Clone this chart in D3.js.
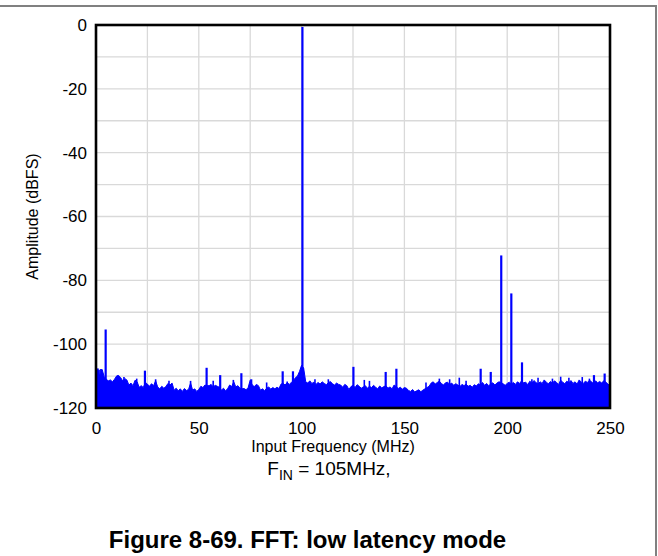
<!DOCTYPE html>
<html>
<head>
<meta charset="utf-8">
<script src="https://cdn.jsdelivr.net/npm/d3@7"></script>
<style>
  body { margin: 0; background: #fff; }
  svg { display: block; font-family: Arial, "Liberation Sans", Helvetica, sans-serif; }
</style>
</head>
<body>
<svg id="chart" width="658" height="556"></svg>
<script>
// ---- Data ----
const xTicks = [0, 50, 100, 150, 200, 250];
const yTicks = [0, -20, -40, -60, -80, -100, -120];
const xGrid = [25, 50, 75, 100, 125, 150, 175, 200, 225];
const yGrid = [-10, -20, -30, -40, -50, -60, -70, -80, -90, -100, -110];

// Noise floor, one value per MHz from 0 to 250 MHz (dBFS)
const floorDb = [
  -107.8, -108.2, -110.5, -108.0, -110.2, -111.0, -111.5, -111.2, -111.8, -111.0,
  -110.0, -109.8, -110.5, -111.5, -110.8, -111.2, -112.8, -112.2, -113.0, -111.3,
  -111.8, -113.5, -113.0, -113.6, -112.0, -112.5, -113.2, -112.4, -113.0, -111.5,
  -113.4, -114.0, -113.2, -113.8, -113.3, -112.3, -112.8, -112.2, -114.4, -113.8,
  -114.6, -114.0, -114.8, -113.9, -114.5, -114.2, -112.2, -114.4, -114.0, -114.8,
  -114.2, -113.2, -113.6, -112.8, -113.0, -113.0, -112.6, -113.4, -112.9, -113.2,
  -113.5, -114.4, -113.8, -114.6, -114.0, -112.8, -113.3, -111.8, -113.4, -113.0,
  -113.8, -114.0, -113.9, -114.3, -113.6, -111.3, -112.8, -113.3, -112.6, -113.0,
  -114.4, -114.0, -114.6, -113.8, -113.4, -114.1, -113.6, -114.0, -113.5, -113.9,
  -112.5, -112.3, -112.8, -112.0, -112.6, -112.0, -111.5, -110.5, -110.0, -108.5,
  -106.6, -107.5, -111.8, -112.2, -111.5, -112.3, -111.9, -112.6, -112.0, -112.5,
  -111.8, -112.3, -112.7, -112.1, -111.7, -112.4, -112.8, -112.2, -112.6, -112.8,
  -113.5, -112.6, -113.0, -114.2, -113.3, -112.9, -113.6, -112.7, -113.2, -113.8,
  -113.4, -113.0, -113.8, -113.2, -113.6, -112.9, -113.5, -114.0, -113.1, -113.7,
  -113.3, -113.0, -113.8, -113.4, -114.0, -112.8, -113.3, -113.9, -113.5, -114.1,
  -113.6, -113.8, -114.5, -114.8, -114.2, -115.0, -114.6, -114.3, -114.9, -114.4,
  -114.0, -113.6, -113.2, -112.2, -111.8, -112.5, -112.0, -111.6, -112.3, -112.8,
  -112.1, -111.9, -112.6, -112.2, -112.9, -112.4, -112.8, -113.3, -112.6, -113.0,
  -112.5, -113.2, -112.9, -113.5, -112.7, -113.1, -112.4, -112.8, -112.0, -112.9,
  -112.3, -113.0, -112.5, -112.1, -112.8, -112.2, -111.8, -112.0, -112.4, -112.9,
  -112.3, -111.9, -112.5, -112.0, -112.6, -111.8, -112.3, -111.5, -112.1, -111.9,
  -112.7, -111.6, -112.2, -111.4, -112.0, -112.5, -111.8, -112.3, -111.2, -111.9,
  -112.4, -111.7, -112.2, -111.5, -112.0, -112.6, -111.3, -111.9, -112.4, -111.6,
  -112.1, -111.4, -112.3, -111.8, -112.5, -111.2, -111.9, -112.3, -111.6, -112.0,
  -111.3, -111.8, -112.4, -111.5, -112.1, -111.7, -112.2, -111.4, -111.9, -112.5,
  -113.0
];

// Distinct tones / spurs: frequency (MHz) and amplitude (dBFS)
const spurFreq = [0.8, 2.5, 4.7, 23.8, 53.8, 60.4, 70.7, 75.5, 90.8, 95.8, 98.6, 100.4,
                  125.2, 140.9, 146.1, 187.1, 192.0, 197.1, 202.0, 207.2, 242.2, 247.4];
const spurDb   = [-107.6, -107.8, -95.4, -108.3, -107.4, -109.7, -109.1, -111.0, -108.5, -108.5, -110.0, -0.6,
                  -107.1, -108.7, -107.7, -107.7, -108.7, -72.2, -84.1, -105.7, -109.7, -109.2];

// Small noise spikes riding on the floor
const minorFreq = [1.5, 10.5, 13.6, 19.8, 29.0, 35.5, 46.0, 57.0, 66.8, 83.0, 93.0, 106.5, 113.0,
                   130.5, 133.0, 160.5, 167.0, 172.0, 176.7, 180.0, 212.0, 215.0, 222.0, 226.0,
                   230.0, 236.5, 240.0];
const minorDb   = [-108.0, -109.8, -110.3, -110.8, -111.0, -111.5, -111.5, -111.5, -111.2, -112.0,
                   -111.7, -111.0, -111.0, -111.2, -111.5, -112.0, -110.8, -111.0, -110.5, -111.5,
                   -111.0, -110.5, -110.8, -110.2, -110.5, -110.3, -110.8];

// ---- Layout ----
const svg = d3.select("#chart");
const L = 96, R = 610, T = 25, B = 408;
const x = d3.scaleLinear().domain([0, 250]).range([L, R]);
const y = d3.scaleLinear().domain([-120, 0]).range([B, T]);

// outer frame lines (top & right)
svg.append("line").attr("x1", 0).attr("x2", 656).attr("y1", 6).attr("y2", 6)
  .attr("stroke", "#808080").attr("stroke-width", 2);
svg.append("line").attr("x1", 656).attr("x2", 656).attr("y1", 5).attr("y2", 556)
  .attr("stroke", "#808080").attr("stroke-width", 2);

// grid
svg.append("g").selectAll("line").data(xGrid).join("line")
  .attr("x1", d => x(d)).attr("x2", d => x(d)).attr("y1", T).attr("y2", B)
  .attr("stroke", "#d9d9d9").attr("stroke-width", 1.3);
svg.append("g").selectAll("line").data(yGrid).join("line")
  .attr("x1", L).attr("x2", R).attr("y1", d => y(d)).attr("y2", d => y(d))
  .attr("stroke", "#d9d9d9").attr("stroke-width", 1.3);

// data
const step = 250 / (floorDb.length - 1);
const floorPts = floorDb.map((v, i) => [i * step, v]);
const area = d3.area().x(d => x(d[0])).y0(y(-120)).y1(d => y(d[1]));
const plot = svg.append("g");
plot.append("path").datum(floorPts).attr("d", area)
  .attr("fill", "#0000ff").attr("stroke", "#0000ff").attr("stroke-width", 1);
plot.selectAll("line.minor").data(minorFreq.map((f, i) => [f, minorDb[i]])).join("line")
  .attr("class", "minor")
  .attr("x1", d => x(d[0])).attr("x2", d => x(d[0]))
  .attr("y1", y(-120)).attr("y2", d => y(d[1]))
  .attr("stroke", "#0000ff").attr("stroke-width", 1.6);
plot.selectAll("line.spur").data(spurFreq.map((f, i) => [f, spurDb[i]])).join("line")
  .attr("class", "spur")
  .attr("x1", d => x(d[0])).attr("x2", d => x(d[0]))
  .attr("y1", y(-120)).attr("y2", d => y(d[1]))
  .attr("stroke", "#0000ff").attr("stroke-width", 2.2);

// frame
svg.append("rect").attr("x", L).attr("y", T).attr("width", R - L).attr("height", B - T)
  .attr("fill", "none").attr("stroke", "#000").attr("stroke-width", 2.6);

// axes
const fmt = d => String(d);
const xAxis = d3.axisBottom(x).tickValues(xTicks).tickSize(0).tickPadding(14).tickFormat(fmt);
const gx = svg.append("g").attr("transform", `translate(0,${B})`).call(xAxis);
gx.select(".domain").remove();
gx.selectAll("text").attr("font-size", 17).attr("fill", "#000").attr("font-family", "Arial, 'Liberation Sans', sans-serif");

const yAxis = d3.axisLeft(y).tickValues(yTicks).tickSize(0).tickPadding(9).tickFormat(fmt);
const gy = svg.append("g").attr("transform", `translate(${L},0)`).call(yAxis);
gy.select(".domain").remove();
gy.selectAll("text").attr("font-size", 17).attr("fill", "#000").attr("font-family", "Arial, 'Liberation Sans', sans-serif");

// axis titles
svg.append("text").attr("x", 333).attr("y", 452).attr("text-anchor", "middle")
  .attr("font-size", 16).text("Input Frequency (MHz)");
svg.append("text").attr("transform", `translate(38,${(T + B) / 2}) rotate(-90)`)
  .attr("text-anchor", "middle").attr("font-size", 16).text("Amplitude (dBFS)");

// note
const note = svg.append("text").attr("x", 329).attr("y", 475).attr("text-anchor", "middle")
  .attr("font-size", 19);
note.append("tspan").text("F");
note.append("tspan").attr("font-size", 14).attr("dy", 5).text("IN");
note.append("tspan").attr("dy", -5).text(" = 105MHz,");

// caption
svg.append("text").attr("x", 307.5).attr("y", 548).attr("text-anchor", "middle")
  .attr("font-size", 24).attr("font-weight", "bold").text("Figure 8-69. FFT: low latency mode");
</script>
</body>
</html>
